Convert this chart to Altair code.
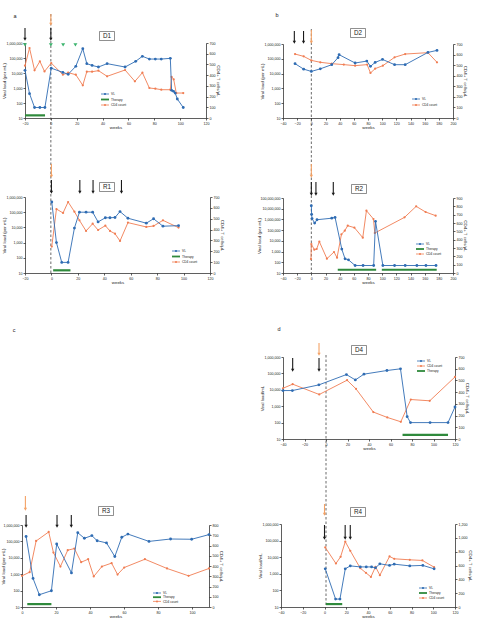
import altair as alt
import pandas as pd

FONT = "Liberation Sans"
BLUE = "#2f6cb3"
ORANGE = "#f07d52"
ORANGE_ARROW = "#f4a266"
GREEN = "#2f8a3c"
MARK_GREEN = "#3cb46e"
INK = "#1a1a1a"

W, H = 480, 631

# ---------------- data: weeks / viral load (copies per mL) / CD4 (cells per uL) ----------------
d1_vl_weeks = [-20, -16.5, -12.6, -8.5, -4.6, 0.3, 9.3, 13.4, 19.3, 24.7, 27.8, 31.9, 36.8, 43.5,
               57.4, 65.6, 70.8, 76.2, 80.8, 85.4, 92.4, 93.4, 94.9, 96.2, 97.8, 102.4]
d1_vl = [15000, 420, 50, 50, 50, 21000, 11000, 8200, 28000, 420000, 42000, 32000, 25000, 42000,
         25000, 60000, 130000, 85000, 85000, 85000, 95000, 700, 600, 460, 185, 50]
d1_cd4_weeks = [-20, -16.5, -12.6, -8.5, -4.9, 0.3, 9.3, 13.4, 19.3, 24.7, 27.8, 31.9, 36.8, 43.5,
                57.4, 65, 70.8, 76.2, 80.8, 85.4, 92.4, 93.4, 95, 97, 102.4]
d1_cd4 = [488, 653, 445, 529, 435, 513, 404, 423, 404, 305, 432, 432, 442, 389,
          448, 342, 423, 280, 274, 264, 264, 383, 361, 233, 233]
d1_therapy = [(-20, -4.5)]
d1_sampling = [-20, 0]
d1_transmission = [0]
d1_markers = [-20, 0, 9.5, 19]

r1_vl_weeks = [0.25, 3.8, 7.8, 12.6, 17.4, 21.2, 26.2, 31.2, 35.3, 40.8, 44.3, 48.1, 51.9, 57.9,
               71.8, 77.3, 84.4, 96.2]
r1_vl = [470000, 1000, 50, 50, 9000, 100000, 100000, 100000, 23000, 43000, 43000, 45000, 110000,
         40000, 19000, 37000, 12000, 13000]
r1_cd4_weeks = [0.25, 3.8, 8.8, 12.6, 17.4, 21.2, 26.2, 31.2, 35.3, 40.8, 44.3, 48.1, 51.9, 57.9,
                71.8, 77.3, 84.4, 96.2]
r1_cd4 = [243, 589, 553, 654, 565, 485, 387, 454, 396, 436, 387, 362, 295, 464, 424, 433, 485, 418]
r1_therapy = [(1.3, 14.4)]
r1_sampling = [0, 21.5, 31.5, 53]
r1_transmission = [0]

d2_vl_weeks = [-23, -10.8, 0, 12.7, 28.8, 37.7, 39.2, 61.8, 78.3, 83.5, 90.1, 100.5, 117.5, 132.5,
               164.6, 177.4]
d2_vl = [47000, 20000, 14000, 21000, 40000, 120000, 190000, 52000, 70000, 31000, 57000, 91000,
         40000, 40000, 270000, 370000]
d2_cd4_weeks = [-23, -10.8, 0, 12.7, 28.8, 45.8, 61.8, 78.8, 83.5, 90.1, 101, 117.5, 132.5, 164.6,
                177.4]
d2_cd4 = [605, 583, 545, 527, 514, 505, 495, 505, 426, 467, 495, 574, 605, 618, 527]
d2_therapy = []
d2_sampling = [-24, -11]
d2_transmission = [0]

r2_vl_weeks = [0, 0.4, 1, 4.7, 8, 28.8, 33.5, 43, 47.6, 52.4, 61.8, 73, 88, 90.6, 101, 117.5,
               132.5, 149, 161.8, 176]
r2_vl = [19000000, 3000000, 1200000, 460000, 940000, 1300000, 1550000, 1700, 210, 170, 50, 50, 50,
         660000, 50, 50, 50, 50, 50, 50]
r2_cd4_weeks = [-0.5, 0, 4.2, 7.5, 11.3, 22, 32, 36.3, 42.5, 47.2, 51.4, 60.8, 72.6, 77.8, 87.7,
                89.6, 131.6, 148, 161.3, 175.5]
r2_cd4 = [168, 348, 280, 288, 376, 172, 252, 184, 464, 508, 568, 544, 424, 748, 648, 480, 668, 800,
          732, 688]
r2_therapy = [(37.3, 91.5), (99.5, 177)]
r2_sampling = [0, 6.5, 31]
r2_transmission = [0]

r3_vl_weeks = [2.4, 6.5, 10.2, 17.3, 20.4, 29.1, 32.8, 36.7, 41.1, 44.2, 49.7, 54.6, 58.7, 62.3,
               74.7, 87.4, 99.8, 110]
r3_vl = [200000, 550, 56, 98, 70000, 1200, 340000, 155000, 225000, 110000, 81000, 12000, 180000,
         280000, 100000, 140000, 135000, 260000]
r3_cd4_weeks = [0, 4.5, 8.3, 15.7, 18.5, 22.6, 26.9, 30.8, 34.8, 38.9, 42.2, 47, 52.7, 56.2, 60.1,
                72.3, 85.3, 98, 110]
r3_cd4 = [304, 340, 644, 732, 531, 395, 554, 570, 437, 466, 298, 395, 428, 317, 385, 466, 376, 304,
          376]
r3_therapy = [(3.1, 17.3)]
r3_sampling = [2.4, 20.6, 29]
r3_transmission = [2]

d4_vl_weeks = [-40, -31.3, -6.6, 19, 27.3, 35.3, 56.7, 69.3, 75.5, 78.6, 96.8, 113.5, 120]
d4_vl = [9000, 9000, 20000, 85000, 40000, 90000, 150000, 190000, 230, 100, 100, 100, 900]
d4_cd4_weeks = [-40, -31, -6.3, 19.6, 27.9, 44, 57, 69.6, 78.9, 96.5, 120]
d4_cd4 = [433, 468, 380, 502, 428, 230, 184, 147, 337, 326, 530]
d4_therapy = [(71.2, 113.5)]
d4_sampling = [-31, -6.5]
d4_transmission = [-6.5]

r4_vl_weeks = [0.7, 10.2, 14.2, 19.1, 23.7, 32.9, 38.4, 43.3, 46.9, 50.9, 59.8, 64.1, 78.4, 90.4,
               100.8]
r4_vl = [2000, 30, 30, 2000, 3000, 2600, 2600, 2600, 2300, 4000, 3200, 3800, 3000, 3200, 2000]
r4_cd4_weeks = [0.7, 10.5, 14.8, 19.1, 23.7, 32.9, 38.1, 42.7, 46.9, 50.9, 59.8, 64.1, 78.4, 90,
                100.8]
r4_cd4 = [861, 629, 726, 944, 813, 561, 494, 435, 581, 460, 731, 697, 682, 673, 576]
r4_therapy = [(1.3, 16.3)]
r4_sampling = [0, 19, 23.7]
r4_transmission = [0]

LOG6 = [10, 100, 1000, 10000, 100000, 1000000]
LOG8 = LOG6 + [10000000, 100000000]
VL_TITLE = "Viral load (per mL)"
VL_TITLE_D = "Viral load/mL"
CD4_TITLE = "CD4+ T cells/µL"

# ---------------- panel layout (pixel frame of each plot area) ----------------
# title_edge: pixel column at which the rotated left-axis title sits
panels = [
    dict(name="D1", x0=25, x1=206, top=43, bot=118, xdom=[-20, 120], xticks=list(range(-20, 121, 20)),
         ydom=[10, 1e6], yticks=LOG6, rdom=[0, 700], rticks=list(range(0, 701, 100)), ytitle=VL_TITLE,
         title_edge=6, vl=(d1_vl_weeks, d1_vl), cd4=(d1_cd4_weeks, d1_cd4), therapy=d1_therapy, level=15,
         sampling=d1_sampling, samp_y=(28, 41), transmission=d1_transmission, trans_y=(14, 26),
         box=(107, 36), legend=(101, 94, 5.5, ["VL", "Therapy", "CD4 count"])),
    dict(name="R1", x0=25, x1=210, top=197, bot=273, xdom=[-20, 120], xticks=list(range(-20, 121, 20)),
         ydom=[10, 1e6], yticks=LOG6, rdom=[0, 700], rticks=list(range(0, 701, 100)), ytitle=VL_TITLE,
         title_edge=6.5, vl=(r1_vl_weeks, r1_vl), cd4=(r1_cd4_weeks, r1_cd4), therapy=r1_therapy, level=15,
         sampling=r1_sampling, samp_y=(180, 194), transmission=r1_transmission, trans_y=(164, 178),
         box=(107, 187), legend=(172, 251, 5.5, ["VL", "Therapy", "CD4 count"])),
    dict(name="D2", x0=283, x1=453, top=44, bot=118, xdom=[-40, 200], xticks=list(range(-40, 201, 20)),
         ydom=[10, 1e6], yticks=LOG6, rdom=[0, 700], rticks=list(range(0, 701, 100)), ytitle=VL_TITLE,
         title_edge=264, vl=(d2_vl_weeks, d2_vl), cd4=(d2_cd4_weeks, d2_cd4), therapy=d2_therapy, level=15,
         sampling=d2_sampling, samp_y=(31, 44), transmission=d2_transmission, trans_y=(30, 44),
         box=(358, 33), legend=(412, 99, 6, ["VL", "CD4 count"])),
    dict(name="R2", x0=283, x1=453, top=198, bot=273, xdom=[-40, 200], xticks=list(range(-40, 201, 20)),
         ydom=[10, 1e8], yticks=LOG8, rdom=[0, 900], rticks=list(range(0, 901, 100)), ytitle=VL_TITLE,
         title_edge=261, vl=(r2_vl_weeks, r2_vl), cd4=(r2_cd4_weeks, r2_cd4), therapy=r2_therapy, level=20,
         sampling=r2_sampling, samp_y=(182, 196), transmission=r2_transmission, trans_y=(164, 178),
         box=(359, 189), legend=(416, 244, 5, ["VL", "Therapy", "CD4 count"])),
    dict(name="R3", x0=22, x1=209, top=525, bot=607, xdom=[0, 110], xticks=list(range(0, 101, 20)),
         ydom=[10, 1e6], yticks=LOG6, rdom=[0, 800], rticks=list(range(0, 801, 100)), ytitle=VL_TITLE,
         title_edge=5.5, vl=(r3_vl_weeks, r3_vl), cd4=(r3_cd4_weeks, r3_cd4), therapy=r3_therapy, level=15,
         sampling=r3_sampling, samp_y=(515, 528), transmission=r3_transmission, trans_y=(496, 511),
         box=(106, 511), legend=(153, 593, 4.2, ["VL", "Therapy", "CD4 count"])),
    dict(name="D4", x0=283, x1=455, top=357, bot=439, xdom=[-40, 120], xticks=list(range(-40, 121, 20)),
         ydom=[10, 1e6], yticks=LOG6, rdom=[0, 700], rticks=list(range(0, 701, 100)), ytitle=VL_TITLE_D,
         title_edge=264, vl=(d4_vl_weeks, d4_vl), cd4=(d4_cd4_weeks, d4_cd4), therapy=d4_therapy, level=18,
         sampling=d4_sampling, samp_y=(358, 372), transmission=d4_transmission, trans_y=(343, 356),
         box=(359, 350), legend=(417, 361, 5, ["VL", "CD4 count", "Therapy"])),
    dict(name="R4", x0=281, x1=455, top=524, bot=607, xdom=[-40, 120], xticks=list(range(-40, 121, 20)),
         ydom=[10, 1e6], yticks=LOG6, rdom=[0, 1200], rticks=list(range(0, 1201, 200)), ytitle=VL_TITLE_D,
         title_edge=262.5, vl=(r4_vl_weeks, r4_vl), cd4=(r4_cd4_weeks, r4_cd4), therapy=r4_therapy, level=15,
         sampling=r4_sampling, samp_y=(525, 540), transmission=r4_transmission, trans_y=(504, 516),
         box=(358, 512), legend=(419, 588, 5, ["VL", "Therapy", "CD4 count"])),
]
PANEL = {p["name"]: p for p in panels}

# dashed "week 0" guides: (panel whose x scale is used, top pixel, bottom pixel)
guides = [("D1", 14, 273), ("D2", 29, 273), ("D4", 355, 607)]

# panel letters
letters = [("a", 15, 16), ("b", 277, 15), ("c", 14, 330), ("d", 279, 329)]


def make_axis(**kw):
    base = dict(grid=False, domainColor=INK, tickColor=INK, domainWidth=0.7, tickWidth=0.7,
                tickSize=2, labelFontSize=3.6, titleFontSize=4.4, labelFont=FONT, titleFont=FONT,
                labelColor="#222", titleColor="#222", titleFontWeight="normal", labelPadding=1,
                titlePadding=0.8, labelOverlap=False, labelFlush=False)
    base.update(kw)
    return alt.Axis(**base)


def scales(p):
    xs = alt.Scale(domain=p["xdom"], range=[p["x0"], p["x1"]], nice=False, zero=False)
    ys = alt.Scale(type="log", domain=p["ydom"], range=[p["bot"], p["top"]], nice=False)
    rs = alt.Scale(domain=p["rdom"], range=[p["bot"], p["top"]], nice=False, zero=False)
    return xs, ys, rs


def panel_layers(p):
    xs, ys, rs = scales(p)
    layers = []

    vl_df = pd.DataFrame({"week": p["vl"][0], "vl": p["vl"][1]})
    cd4_df = pd.DataFrame({"week": p["cd4"][0], "cd4": p["cd4"][1]})

    if p["therapy"]:
        th = pd.DataFrame({"start": [a for a, b in p["therapy"]], "end": [b for a, b in p["therapy"]],
                           "level": [p["level"]] * len(p["therapy"])})
        layers.append(alt.Chart(th).mark_rule(color=GREEN, strokeWidth=2.2).encode(
            x=alt.X("start:Q", scale=xs, axis=None), x2="end:Q",
            y=alt.Y("level:Q", scale=ys, axis=None)))

    layers.append(alt.Chart(cd4_df).mark_line(
        color=ORANGE, strokeWidth=0.9,
        point=alt.OverlayMarkDef(color=ORANGE, size=5, filled=True)).encode(
        x=alt.X("week:Q", scale=xs, axis=None),
        y=alt.Y("cd4:Q", scale=rs, axis=make_axis(orient="right", offset=p["x1"] - W,
                                                  values=p["rticks"], format=",.0f",
                                                  title=CD4_TITLE))))

    layers.append(alt.Chart(vl_df).mark_line(
        color=BLUE, strokeWidth=0.9,
        point=alt.OverlayMarkDef(color=BLUE, size=8, filled=True)).encode(
        x=alt.X("week:Q", scale=xs, axis=make_axis(orient="bottom", offset=p["bot"] - H,
                                                   values=p["xticks"], format="d", title="weeks")),
        y=alt.Y("vl:Q", scale=ys, axis=make_axis(orient="left", offset=-p["x0"],
                                                 values=p["yticks"], format=",.0f",
                                                 title=p["ytitle"],
                                                 titleX=p["title_edge"] - p["x0"]))))

    # sampling (black) and transmission (orange) arrows above the plot
    rows = [dict(week=w, top=p["samp_y"][0], tip=p["samp_y"][1], c=INK) for w in p["sampling"]]
    rows += [dict(week=w, top=p["trans_y"][0], tip=p["trans_y"][1], c=ORANGE_ARROW)
             for w in p["transmission"]]
    ar = pd.DataFrame(rows)
    ar["shaft_end"] = ar["tip"] - 2.5
    ar["head"] = ar["tip"] - 1.8
    layers.append(alt.Chart(ar).mark_rule(strokeWidth=1.1).encode(
        x=alt.X("week:Q", scale=xs, axis=None),
        y=alt.Y("top:Q", scale=None), y2="shaft_end:Q",
        color=alt.Color("c:N", scale=None)))
    layers.append(alt.Chart(ar).mark_point(shape="triangle-down", filled=True, size=11, opacity=1).encode(
        x=alt.X("week:Q", scale=xs, axis=None),
        y=alt.Y("head:Q", scale=None),
        color=alt.Color("c:N", scale=None)))
    return layers


layers = []

# dashed week-0 guides drawn first, under the data
for name, y_top, y_bot in guides:
    xs, _, _ = scales(PANEL[name])
    layers.append(alt.Chart(pd.DataFrame({"week": [0]})).mark_rule(
        color="#444", strokeWidth=0.8, strokeDash=[2.5, 2]).encode(
        x=alt.X("week:Q", scale=xs, axis=None), y=alt.value(y_top), y2=alt.value(y_bot)))

for p in panels:
    layers += panel_layers(p)

# green markers on top of D1
p = PANEL["D1"]
xs, ys, _ = scales(p)
layers.append(alt.Chart(pd.DataFrame({"week": d1_markers, "vl": [7.5e5] * len(d1_markers)})).mark_point(
    shape="triangle-down", filled=True, size=16, color=MARK_GREEN, opacity=1).encode(
    x=alt.X("week:Q", scale=xs, axis=None), y=alt.Y("vl:Q", scale=ys, axis=None)))

# boxed panel names
boxes = pd.DataFrame([dict(name=p["name"], cx=p["box"][0], cy=p["box"][1]) for p in panels])
boxes["xa"] = boxes["cx"] - 7.5
boxes["xb"] = boxes["cx"] + 7.5
boxes["ya"] = boxes["cy"] - 4.5
boxes["yb"] = boxes["cy"] + 4.5
layers.append(alt.Chart(boxes).mark_rect(fill="white", stroke="#444", strokeWidth=0.6).encode(
    x=alt.X("xa:Q", scale=None), x2="xb:Q", y=alt.Y("ya:Q", scale=None), y2="yb:Q"))
layers.append(alt.Chart(boxes).mark_text(font=FONT, fontSize=6.3, color="#222", baseline="middle").encode(
    x=alt.X("cx:Q", scale=None), y=alt.Y("cy:Q", scale=None), text="name:N"))

# panel letters
lt = pd.DataFrame(letters, columns=["t", "x", "y"])
layers.append(alt.Chart(lt).mark_text(font=FONT, fontSize=5.5, color="#222", baseline="middle").encode(
    x=alt.X("x:Q", scale=None), y=alt.Y("y:Q", scale=None), text="t:N"))

# hand-placed legends
STYLE = {"VL": (BLUE, 0.8, 5), "CD4 count": (ORANGE, 0.8, 4), "Therapy": (GREEN, 1.8, 0)}
leg_lines, leg_pts, leg_txt = [], [], []
for p in panels:
    lx, ly, dy, items = p["legend"]
    for i, item in enumerate(items):
        col, sw, ps = STYLE[item]
        y = ly + i * dy
        leg_lines.append(dict(xa=lx, xb=lx + 8, y=y, c=col, sw=sw))
        if ps:
            leg_pts.append(dict(x=lx + 4, y=y, c=col, s=ps))
        leg_txt.append(dict(x=lx + 10, y=y, t=item))
layers.append(alt.Chart(pd.DataFrame(leg_lines)).mark_rule().encode(
    x=alt.X("xa:Q", scale=None), x2="xb:Q", y=alt.Y("y:Q", scale=None),
    color=alt.Color("c:N", scale=None), strokeWidth=alt.StrokeWidth("sw:Q", scale=None)))
layers.append(alt.Chart(pd.DataFrame(leg_pts)).mark_point(filled=True, opacity=1).encode(
    x=alt.X("x:Q", scale=None), y=alt.Y("y:Q", scale=None),
    color=alt.Color("c:N", scale=None), size=alt.Size("s:Q", scale=None)))
layers.append(alt.Chart(pd.DataFrame(leg_txt)).mark_text(
    font=FONT, fontSize=3.2, color="#222", align="left", baseline="middle").encode(
    x=alt.X("x:Q", scale=None), y=alt.Y("y:Q", scale=None), text="t:N"))

chart = alt.layer(*layers).resolve_scale(x="independent", y="independent").properties(
    width=W, height=H, autosize=alt.AutoSizeParams(type="none"), padding=0,
    background="white").configure_view(stroke=None)

chart.save("out.html", embed_options={"renderer": "svg", "actions": False})
